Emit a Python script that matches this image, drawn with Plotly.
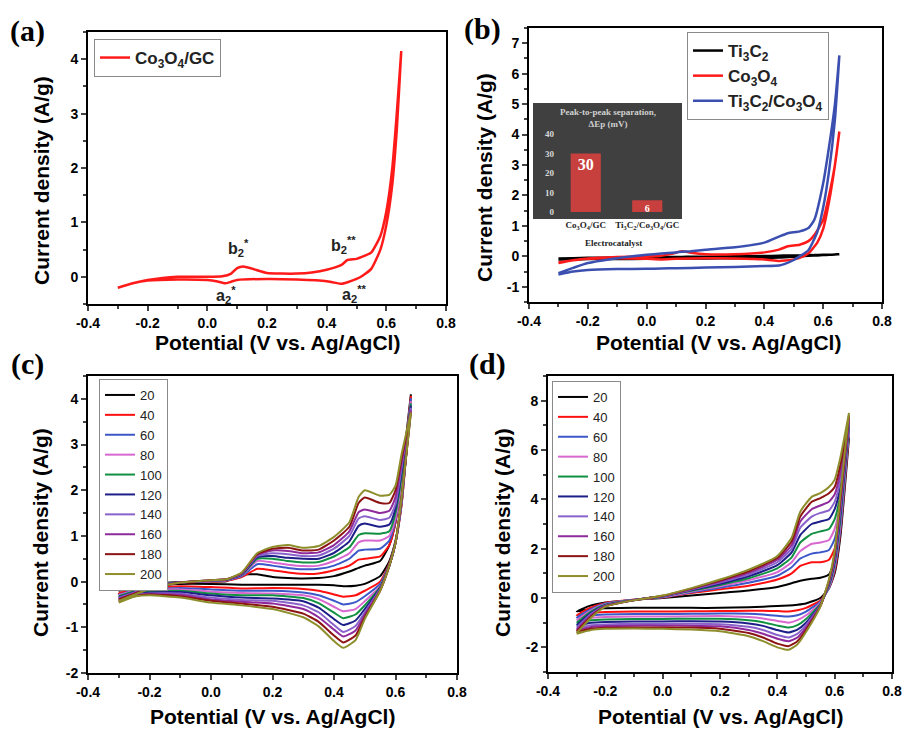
import plotly.graph_objects as go

SANS = "Liberation Sans, Arial, sans-serif"
SERIF = "Liberation Serif, Times New Roman, serif"

# ---------------- Panel (a): Co3O4/GC ----------------
A_X_AN = [-0.3, -0.25, -0.2, -0.15, -0.1, -0.05, 0.0, 0.05, 0.08, 0.1, 0.12, 0.15, 0.2, 0.25, 0.3, 0.35,
          0.4, 0.45, 0.47, 0.5, 0.52, 0.55, 0.58, 0.6, 0.62, 0.635, 0.65]
A_Y_AN = [-0.2, -0.12, -0.06, -0.02, 0.0, 0.0, 0.0, 0.01, 0.06, 0.16, 0.19, 0.15, 0.07, 0.06, 0.06, 0.08,
          0.13, 0.22, 0.31, 0.33, 0.37, 0.45, 0.75, 1.2, 2.0, 3.0, 4.15]
A_X_CA = [0.65, 0.635, 0.62, 0.6, 0.58, 0.55, 0.52, 0.5, 0.47, 0.45, 0.42, 0.4, 0.3, 0.2, 0.1, 0.08, 0.06,
          0.03, 0.0, -0.1, -0.2, -0.25, -0.3]
A_Y_CA = [4.15, 2.7, 1.7, 0.95, 0.5, 0.15, 0.02, -0.04, -0.1, -0.13, -0.1, -0.08, -0.05, -0.04, -0.06, -0.09,
          -0.12, -0.08, -0.06, -0.05, -0.07, -0.12, -0.2]

# ---------------- Panel (b): comparison ----------------
B_NAMES = ["Ti<sub>3</sub>C<sub>2</sub>", "Co<sub>3</sub>O<sub>4</sub>",
           "Ti<sub>3</sub>C<sub>2</sub>/Co<sub>3</sub>O<sub>4</sub>"]
B_COLORS = ["#000000", "#ff1a1a", "#3a4fb0"]
B_X_AN = [-0.3, -0.25, -0.2, -0.1, 0.0, 0.05, 0.1, 0.12, 0.15, 0.2, 0.3, 0.4, 0.45, 0.48, 0.52, 0.55, 0.57,
          0.6, 0.62, 0.64, 0.655]
B_TI_AN = [-0.07, -0.06, -0.05, -0.04, -0.03, -0.02, -0.02, -0.02, -0.01, -0.01, 0.0, 0.01, 0.02, 0.03, 0.03,
           0.04, 0.04, 0.05, 0.05, 0.06, 0.07]
B_CO_AN = [-0.2, -0.13, -0.07, -0.02, 0.0, 0.02, 0.12, 0.17, 0.12, 0.07, 0.07, 0.13, 0.22, 0.33, 0.38, 0.5,
           0.7, 1.2, 2.0, 3.0, 4.1]
B_TC_AN = [-0.55, -0.38, -0.22, -0.06, 0.05, 0.09, 0.13, 0.15, 0.17, 0.22, 0.3, 0.45, 0.65, 0.76, 0.82, 0.93,
           1.2, 2.4, 3.6, 5.0, 6.6]
B_X_CA = [0.655, 0.64, 0.62, 0.6, 0.58, 0.55, 0.52, 0.5, 0.47, 0.45, 0.4, 0.3, 0.2, 0.1, 0.05, 0.0, -0.1,
          -0.2, -0.25, -0.3]
B_TI_CA = [0.07, 0.06, 0.05, 0.04, 0.03, 0.02, 0.0, -0.01, -0.03, -0.04, -0.05, -0.06, -0.07, -0.07, -0.08,
           -0.08, -0.09, -0.09, -0.1, -0.1]
B_CO_CA = [4.1, 3.0, 1.8, 0.9, 0.45, 0.1, -0.05, -0.1, -0.14, -0.15, -0.1, -0.07, -0.06, -0.08, -0.1, -0.08,
           -0.06, -0.08, -0.13, -0.22]
B_TC_CA = [6.6, 4.5, 2.8, 1.6, 0.8, 0.2, 0.0, -0.12, -0.25, -0.3, -0.32, -0.35, -0.37, -0.39, -0.4, -0.41,
           -0.42, -0.45, -0.5, -0.6]

# inset bar chart
INSET_CATS = ["Co<sub>3</sub>O<sub>4</sub>/GC", "Ti<sub>3</sub>C<sub>2</sub>/Co<sub>3</sub>O<sub>4</sub>/GC"]
INSET_VALS = [30, 6]
INSET_TICKS = [0, 10, 20, 30, 40]

# ---------------- Scan-rate series (c) and (d) ----------------
SCAN_RATES = ["20", "40", "60", "80", "100", "120", "140", "160", "180", "200"]
SCAN_COLORS = ["#000000", "#ff1010", "#3c58c8", "#d868d0", "#109040", "#1e1e88",
               "#8a62cc", "#8e2a9c", "#8c1414", "#8e8e2c"]

C_X_AN = [-0.3, -0.2, -0.1, 0.0, 0.05, 0.1, 0.15, 0.2, 0.25, 0.3, 0.35, 0.4, 0.45, 0.48, 0.5, 0.55, 0.58, 0.6,
          0.62, 0.65]
C_Y_AN = [
    [-0.20, -0.06, -0.01, 0.0, 0.01, 0.15, 0.16, 0.10, 0.08, 0.07, 0.08, 0.12, 0.22, 0.30, 0.35, 0.45, 0.8, 1.3, 2.3, 4.1],
    [-0.25, -0.08, -0.02, 0.0, 0.02, 0.10, 0.28, 0.25, 0.20, 0.17, 0.18, 0.25, 0.35, 0.48, 0.50, 0.55, 0.8, 1.3, 2.2, 4.05],
    [-0.28, -0.10, -0.02, 0.01, 0.03, 0.12, 0.38, 0.35, 0.30, 0.27, 0.28, 0.35, 0.50, 0.68, 0.70, 0.72, 0.9, 1.35, 2.2, 4.0],
    [-0.30, -0.10, -0.02, 0.01, 0.03, 0.14, 0.45, 0.42, 0.37, 0.34, 0.35, 0.45, 0.62, 0.86, 0.90, 0.90, 1.0, 1.4, 2.2, 3.95],
    [-0.32, -0.12, -0.02, 0.02, 0.04, 0.15, 0.50, 0.50, 0.45, 0.42, 0.43, 0.55, 0.75, 1.02, 1.06, 1.05, 1.1, 1.5, 2.3, 3.9],
    [-0.34, -0.12, -0.02, 0.02, 0.04, 0.16, 0.53, 0.56, 0.52, 0.50, 0.50, 0.63, 0.88, 1.22, 1.27, 1.20, 1.25, 1.6, 2.4, 3.85],
    [-0.36, -0.13, -0.02, 0.02, 0.05, 0.17, 0.56, 0.62, 0.60, 0.56, 0.57, 0.72, 1.00, 1.38, 1.43, 1.35, 1.4, 1.7, 2.5, 3.8],
    [-0.38, -0.14, -0.02, 0.03, 0.05, 0.18, 0.58, 0.68, 0.67, 0.62, 0.64, 0.80, 1.10, 1.52, 1.58, 1.50, 1.55, 1.85, 2.6, 3.75],
    [-0.39, -0.15, -0.02, 0.03, 0.05, 0.19, 0.60, 0.72, 0.74, 0.68, 0.70, 0.90, 1.20, 1.72, 1.84, 1.72, 1.72, 2.0, 2.7, 3.7],
    [-0.42, -0.16, -0.02, 0.03, 0.05, 0.20, 0.62, 0.76, 0.80, 0.74, 0.78, 0.98, 1.30, 1.85, 2.00, 1.88, 1.90, 2.1, 2.8, 3.7],
]
C_X_CA = [0.65, 0.62, 0.6, 0.58, 0.55, 0.5, 0.47, 0.43, 0.4, 0.35, 0.3, 0.2, 0.1, 0.0, -0.1, -0.2, -0.25, -0.3]
C_Y_CA = [
    [4.1, 1.7, 0.9, 0.45, 0.12, -0.05, -0.09, -0.10, -0.08, -0.07, -0.07, -0.07, -0.07, -0.05, -0.05, -0.10, -0.14, -0.20],
    [4.05, 1.7, 0.85, 0.40, 0.00, -0.20, -0.30, -0.33, -0.28, -0.20, -0.16, -0.14, -0.15, -0.12, -0.10, -0.15, -0.18, -0.25],
    [4.0, 1.75, 0.85, 0.38, -0.05, -0.32, -0.45, -0.50, -0.42, -0.30, -0.24, -0.20, -0.20, -0.17, -0.14, -0.18, -0.22, -0.28],
    [3.95, 1.75, 0.85, 0.36, -0.10, -0.43, -0.60, -0.65, -0.55, -0.38, -0.30, -0.26, -0.25, -0.22, -0.17, -0.20, -0.24, -0.32],
    [3.9, 1.8, 0.85, 0.35, -0.12, -0.52, -0.72, -0.80, -0.68, -0.47, -0.36, -0.30, -0.30, -0.26, -0.20, -0.22, -0.26, -0.34],
    [3.85, 1.8, 0.85, 0.35, -0.14, -0.60, -0.85, -0.95, -0.82, -0.57, -0.43, -0.37, -0.35, -0.30, -0.23, -0.24, -0.28, -0.37],
    [3.8, 1.8, 0.85, 0.35, -0.16, -0.67, -0.97, -1.10, -0.95, -0.67, -0.52, -0.42, -0.40, -0.35, -0.26, -0.26, -0.30, -0.40],
    [3.75, 1.85, 0.85, 0.35, -0.18, -0.72, -1.07, -1.20, -1.05, -0.78, -0.60, -0.48, -0.44, -0.39, -0.29, -0.27, -0.31, -0.42],
    [3.7, 1.85, 0.85, 0.35, -0.20, -0.78, -1.18, -1.33, -1.18, -0.88, -0.70, -0.55, -0.48, -0.42, -0.32, -0.28, -0.32, -0.44],
    [3.7, 1.85, 0.85, 0.35, -0.20, -0.82, -1.28, -1.45, -1.30, -0.98, -0.78, -0.60, -0.52, -0.46, -0.35, -0.30, -0.33, -0.46],
]

D_X_AN = [-0.3, -0.25, -0.2, -0.1, -0.05, 0.0, 0.1, 0.2, 0.3, 0.4, 0.45, 0.48, 0.52, 0.55, 0.58, 0.6, 0.62, 0.65]
D_Y_AN = [
    [-0.55, -0.30, -0.18, -0.08, -0.03, 0.00, 0.10, 0.20, 0.30, 0.45, 0.60, 0.70, 0.78, 0.82, 0.95, 1.5, 3.0, 6.5],
    [-0.70, -0.38, -0.20, -0.07, -0.02, 0.02, 0.20, 0.35, 0.50, 0.75, 1.00, 1.30, 1.45, 1.45, 1.55, 2.0, 3.3, 6.7],
    [-0.80, -0.45, -0.22, -0.07, -0.01, 0.03, 0.23, 0.42, 0.62, 0.90, 1.25, 1.60, 1.80, 1.85, 1.95, 2.4, 3.6, 6.8],
    [-0.90, -0.50, -0.25, -0.07, -0.01, 0.04, 0.26, 0.48, 0.72, 1.05, 1.45, 1.90, 2.20, 2.25, 2.35, 2.8, 3.9, 6.9],
    [-1.00, -0.55, -0.27, -0.08, -0.01, 0.05, 0.29, 0.53, 0.80, 1.20, 1.65, 2.25, 2.60, 2.70, 2.80, 3.2, 4.2, 7.0],
    [-1.10, -0.60, -0.29, -0.08, 0.00, 0.06, 0.32, 0.58, 0.88, 1.33, 1.85, 2.55, 3.00, 3.10, 3.20, 3.6, 4.5, 7.1],
    [-1.20, -0.65, -0.31, -0.08, 0.00, 0.07, 0.34, 0.63, 0.95, 1.45, 2.00, 2.85, 3.30, 3.45, 3.55, 3.9, 4.8, 7.2],
    [-1.28, -0.70, -0.33, -0.09, 0.00, 0.08, 0.36, 0.67, 1.02, 1.55, 2.15, 3.10, 3.60, 3.75, 3.90, 4.2, 5.1, 7.3],
    [-1.35, -0.75, -0.34, -0.09, 0.00, 0.09, 0.38, 0.71, 1.08, 1.63, 2.30, 3.30, 3.90, 4.05, 4.25, 4.5, 5.4, 7.4],
    [-1.42, -0.80, -0.35, -0.09, 0.00, 0.10, 0.40, 0.75, 1.15, 1.70, 2.45, 3.50, 4.10, 4.25, 4.50, 4.8, 5.7, 7.5],
]
D_X_CA = [0.65, 0.62, 0.6, 0.58, 0.55, 0.5, 0.47, 0.44, 0.4, 0.35, 0.3, 0.2, 0.1, 0.0, -0.1, -0.2, -0.25, -0.3]
D_Y_CA = [
    [6.5, 2.5, 1.0, 0.40, 0.00, -0.22, -0.27, -0.30, -0.32, -0.35, -0.37, -0.40, -0.40, -0.40, -0.40, -0.42, -0.45, -0.55],
    [6.7, 2.7, 1.1, 0.40, -0.10, -0.40, -0.50, -0.55, -0.53, -0.52, -0.52, -0.53, -0.54, -0.55, -0.55, -0.57, -0.60, -0.70],
    [6.8, 2.8, 1.2, 0.40, -0.15, -0.55, -0.70, -0.75, -0.72, -0.67, -0.64, -0.63, -0.64, -0.65, -0.65, -0.67, -0.70, -0.80],
    [6.9, 3.0, 1.3, 0.45, -0.20, -0.70, -0.90, -1.00, -0.93, -0.83, -0.77, -0.73, -0.74, -0.75, -0.75, -0.77, -0.80, -0.92],
    [7.0, 3.2, 1.4, 0.50, -0.25, -0.85, -1.10, -1.20, -1.12, -0.98, -0.90, -0.84, -0.84, -0.85, -0.85, -0.87, -0.90, -1.02],
    [7.1, 3.4, 1.5, 0.55, -0.28, -1.00, -1.28, -1.40, -1.30, -1.13, -1.03, -0.95, -0.94, -0.95, -0.95, -0.97, -1.00, -1.12],
    [7.2, 3.6, 1.6, 0.60, -0.30, -1.10, -1.45, -1.60, -1.50, -1.30, -1.17, -1.06, -1.04, -1.05, -1.05, -1.07, -1.10, -1.22],
    [7.3, 3.8, 1.7, 0.65, -0.32, -1.20, -1.60, -1.75, -1.65, -1.45, -1.30, -1.15, -1.12, -1.12, -1.12, -1.14, -1.18, -1.30],
    [7.4, 4.0, 1.8, 0.70, -0.34, -1.30, -1.75, -1.95, -1.85, -1.60, -1.42, -1.25, -1.20, -1.20, -1.20, -1.21, -1.25, -1.37],
    [7.5, 4.2, 1.9, 0.75, -0.35, -1.38, -1.88, -2.10, -2.00, -1.75, -1.55, -1.35, -1.28, -1.25, -1.24, -1.25, -1.30, -1.45],
]

# ---------------- Tick labels ----------------
X_TICKS = [-0.4, -0.2, 0.0, 0.2, 0.4, 0.6, 0.8]
X_TICKTEXT = ["-0.4", "-0.2", "0.0", "0.2", "0.4", "0.6", "0.8"]
A_YTICKS = [0, 1, 2, 3, 4]
B_YTICKS = [-1, 0, 1, 2, 3, 4, 5, 6, 7]
C_YTICKS = [-2, -1, 0, 1, 2, 3, 4]
D_YTICKS = [-2, 0, 2, 4, 6, 8]

fig = go.Figure()


def cv(x_an, y_an, x_ca, y_ca):
    return list(x_an) + list(x_ca), list(y_an) + list(y_ca)


def bold(s):
    return "<b>" + s + "</b>"


LINE_SHAPE = dict(shape="spline", smoothing=0.5)

# (a)
xs, ys = cv(A_X_AN, A_Y_AN, A_X_CA, A_Y_CA)
fig.add_trace(go.Scatter(x=xs, y=ys, mode="lines", name=bold("Co<sub>3</sub>O<sub>4</sub>/GC"),
                         line=dict(color="#ff1a1a", width=2.5, **LINE_SHAPE),
                         xaxis="x", yaxis="y", legend="legend"))

# (b)
for name, col, yan, yca in zip(B_NAMES, B_COLORS, [B_TI_AN, B_CO_AN, B_TC_AN], [B_TI_CA, B_CO_CA, B_TC_CA]):
    xs, ys = cv(B_X_AN, yan, B_X_CA, yca)
    fig.add_trace(go.Scatter(x=xs, y=ys, mode="lines", name=bold(name),
                             line=dict(color=col, width=2.5, **LINE_SHAPE),
                             xaxis="x2", yaxis="y2", legend="legend2"))

# (c)
for lab, col, yan, yca in zip(SCAN_RATES, SCAN_COLORS, C_Y_AN, C_Y_CA):
    xs, ys = cv(C_X_AN, yan, C_X_CA, yca)
    fig.add_trace(go.Scatter(x=xs, y=ys, mode="lines", name=lab,
                             line=dict(color=col, width=2, **LINE_SHAPE),
                             xaxis="x3", yaxis="y3", legend="legend3"))

# (d)
for lab, col, yan, yca in zip(SCAN_RATES, SCAN_COLORS, D_Y_AN, D_Y_CA):
    xs, ys = cv(D_X_AN, yan, D_X_CA, yca)
    fig.add_trace(go.Scatter(x=xs, y=ys, mode="lines", name=lab,
                             line=dict(color=col, width=2, **LINE_SHAPE),
                             xaxis="x4", yaxis="y4", legend="legend4"))

# inset bars
fig.add_trace(go.Bar(x=[0, 1], y=INSET_VALS, width=0.49, marker=dict(color="#c8403e", line=dict(width=0)),
                     text=[bold(str(v)) for v in INSET_VALS], textposition="inside", insidetextanchor="end",
                     textangle=0, constraintext="none",
                     textfont=dict(family=SERIF, size=[16, 10], color="white"),
                     xaxis="x5", yaxis="y5", showlegend=False, hoverinfo="skip"))

W, H = 903, 729


def px_x(p):
    return p / W


def px_y(p):
    return 1 - p / H


def xaxis(domain, anchor):
    return dict(domain=domain, anchor=anchor, range=[-0.4, 0.8], tickmode="array", tickvals=X_TICKS,
                ticktext=[bold(t) for t in X_TICKTEXT], ticks="outside", ticklen=5, tickwidth=2,
                linecolor="black", linewidth=2, mirror=True, showgrid=False, zeroline=False, automargin=False,
                tickfont=dict(family=SANS, size=14, color="black"),
                minor=dict(ticks="outside", ticklen=3, tickwidth=1.5, dtick=0.1, tick0=0, showgrid=False))


def yaxis(domain, anchor, rng, ticks, minor):
    return dict(domain=domain, anchor=anchor, range=rng, tickmode="array", tickvals=ticks,
                ticktext=[bold(str(t)) for t in ticks], ticks="outside", ticklen=5, tickwidth=2,
                linecolor="black", linewidth=2, mirror=True, showgrid=False, zeroline=False, automargin=False,
                tickfont=dict(family=SANS, size=14, color="black"),
                minor=dict(ticks="outside", ticklen=3, tickwidth=1.5, dtick=minor, tick0=0, showgrid=False))


A_DX = [px_x(88), px_x(446)]
A_DY = [px_y(304), px_y(32)]
B_DX = [px_x(529), px_x(882)]
B_DY = [px_y(302), px_y(28)]
C_DX = [px_x(88), px_x(457)]
C_DY = [px_y(673), px_y(376)]
D_DX = [px_x(548), px_x(892)]
D_DY = [px_y(672), px_y(376)]

legend_common = dict(bgcolor="white", bordercolor="#8a8a8a", borderwidth=1, xanchor="left", yanchor="top",
                     itemwidth=30, tracegroupgap=0)

annotations = []


def note(text, x, y, size, family=SANS, color="black", angle=0, xref="paper", yref="paper"):
    return dict(text=text, x=x, y=y, xref=xref, yref=yref, showarrow=False, xanchor="center",
                yanchor="middle", textangle=angle, font=dict(family=family, size=size, color=color))


# panel letters
for txt, x, y in [("(a)", 27, 31), ("(b)", 482, 29), ("(c)", 27, 364), ("(d)", 487, 364)]:
    annotations.append(note(bold(txt), px_x(x), px_y(y), 30, family=SERIF))
# axis titles
for x, y in [(277, 342), (718, 342), (272, 716), (720, 716)]:
    annotations.append(note(bold("Potential (V vs. Ag/AgCl)"), px_x(x), px_y(y), 21))
for x, y in [(42, 181), (485, 178), (40, 533), (502, 533)]:
    annotations.append(note(bold("Current density (A/g)"), px_x(x), px_y(y), 21, angle=-90))
# peak labels (a)
for txt, x, y in [("b<sub>2</sub><sup>*</sup>", 0.106, 0.53), ("b<sub>2</sub><sup>**</sup>", 0.455, 0.58),
                  ("a<sub>2</sub><sup>*</sup>", 0.062, -0.33), ("a<sub>2</sub><sup>**</sup>", 0.49, -0.31)]:
    annotations.append(note(bold(txt), x, y, 16, color="#222", xref="x", yref="y"))
# inset texts
annotations.append(note(bold("Peak-to-peak separation,<br>ΔEp (mV)"), px_x(608), px_y(118), 9,
                        family=SERIF, color="#d0d0d0"))
annotations.append(note(bold("Electrocatalyst"), px_x(613), px_y(243), 9, family=SERIF, color="#222"))

# inset background (dark panel)
shapes = [
    dict(type="rect", xref="paper", yref="paper", x0=px_x(533), x1=px_x(682), y0=px_y(219), y1=px_y(103),
         fillcolor="#404040", line=dict(width=0), layer="below"),
]

fig.update_layout(
    template="none",
    width=W, height=H, margin=dict(l=0, r=0, t=0, b=0, autoexpand=False),
    paper_bgcolor="white", plot_bgcolor="rgba(0,0,0,0)",
    font=dict(family=SANS, color="black"),
    xaxis=xaxis(A_DX, "y"), yaxis=yaxis(A_DY, "x", [-0.5, 4.5], A_YTICKS, 0.5),
    xaxis2=xaxis(B_DX, "y2"), yaxis2=yaxis(B_DY, "x2", [-1.5, 7.5], B_YTICKS, 0.5),
    xaxis3=xaxis(C_DX, "y3"), yaxis3=yaxis(C_DY, "x3", [-2, 4.5], C_YTICKS, 0.5),
    xaxis4=xaxis(D_DX, "y4"), yaxis4=yaxis(D_DY, "x4", [-3, 9], D_YTICKS, 1),
    xaxis5=dict(domain=[px_x(555), px_x(678)], anchor="y5", range=[-0.5, 1.5], tickmode="array",
                tickvals=[0, 1], ticktext=[bold(c) for c in INSET_CATS], showline=False, showgrid=False,
                zeroline=False, ticks="", automargin=False, ticklabelstandoff=6,
                tickfont=dict(family=SERIF, size=9, color="#222")),
    yaxis5=dict(domain=[px_y(212), px_y(130)], anchor="x5", range=[0, 42], tickmode="array",
                tickvals=INSET_TICKS, ticktext=[bold(str(t)) for t in INSET_TICKS], showline=False,
                showgrid=False, zeroline=False, ticks="", automargin=False,
                tickfont=dict(family=SERIF, size=9, color="#d8d8d8")),
    legend=dict(x=px_x(94), y=px_y(39), font=dict(family=SANS, size=17, color="#222"), **legend_common),
    legend2=dict(x=px_x(687), y=px_y(32), font=dict(family=SANS, size=17, color="#222"), **legend_common),
    legend3=dict(x=px_x(99), y=px_y(379), font=dict(family=SANS, size=13, color="#222"), **legend_common),
    legend4=dict(x=px_x(552), y=px_y(381), font=dict(family=SANS, size=13, color="#222"), **legend_common),
    annotations=annotations, shapes=shapes, bargap=0.5,
)

fig.write_html("out.html", config={"displayModeBar": False},
               post_script="document.body.style.margin='0';document.body.style.padding='0';"
                           "document.body.style.overflow='hidden';")
